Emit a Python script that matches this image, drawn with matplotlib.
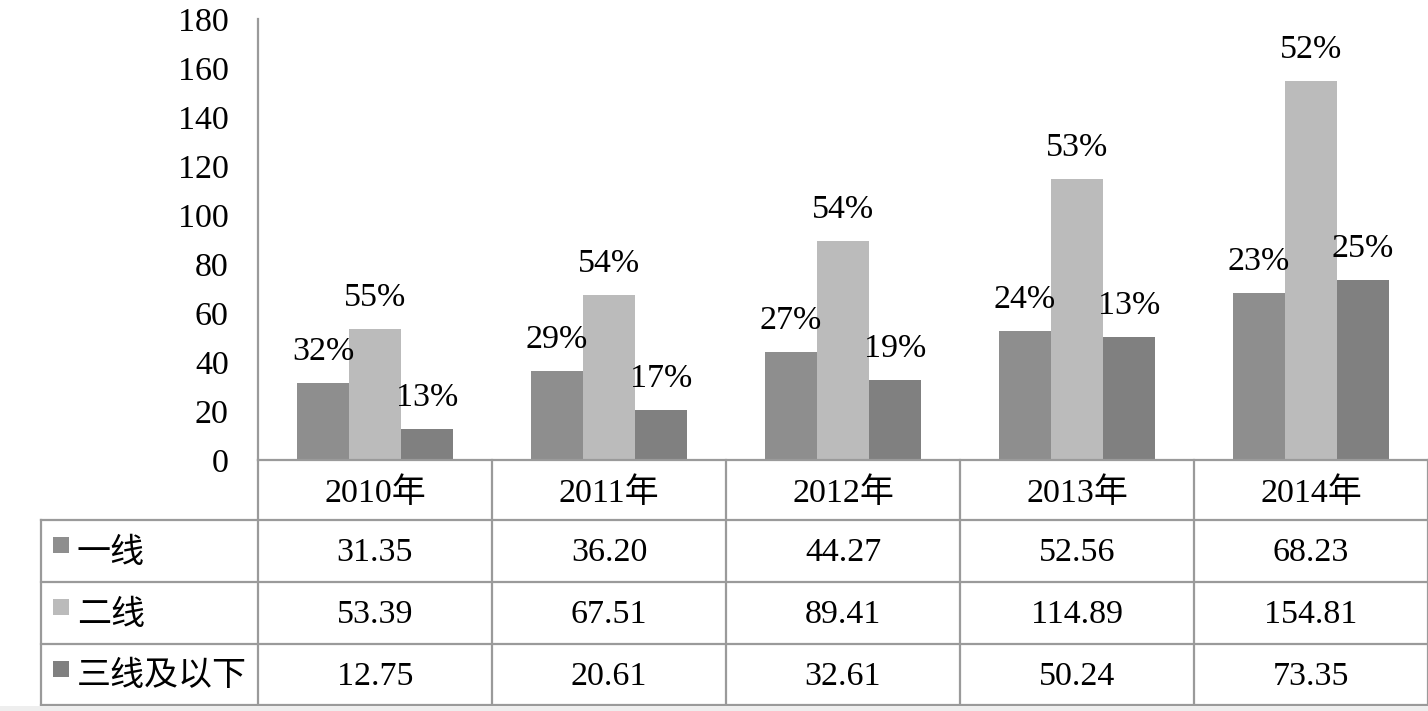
import matplotlib
matplotlib.use("Agg")
import matplotlib.pyplot as plt
import matplotlib.transforms as mtransforms
from matplotlib.patches import Rectangle
import numpy as np

plt.rcParams['font.family'] = ['Liberation Serif', 'Noto Sans CJK SC']

years = ["2010年", "2011年", "2012年", "2013年", "2014年"]
series_names = ["一线", "二线", "三线及以下"]
tier1 = [31.35, 36.20, 44.27, 52.56, 68.23]
tier2 = [53.39, 67.51, 89.41, 114.89, 154.81]
tier3 = [12.75, 20.61, 32.61, 50.24, 73.35]
pct1 = ["32%", "29%", "27%", "24%", "23%"]
pct2 = ["55%", "54%", "54%", "53%", "52%"]
pct3 = ["13%", "17%", "19%", "13%", "25%"]
yticks = [0, 20, 40, 60, 80, 100, 120, 140, 160, 180]

colors = ["#8e8e8e", "#bbbbbb", "#808080"]
grid_color = "#9a9a9a"
FS = 24.5

W, H = 1428, 711
fig = plt.figure(figsize=(W / 100, H / 100), dpi=100)
fig.patch.set_facecolor("white")

ax_left, ax_right = 258, 1428
y0_px, ytop_px = 460, 19
ax = fig.add_axes([ax_left / W, 1 - y0_px / H, (ax_right - ax_left) / W, (y0_px - ytop_px) / H])

x = np.arange(len(years))
bw = 0.222
data = [tier1, tier2, tier3]
pcts = [pct1, pct2, pct3]
for i, (vals, labs) in enumerate(zip(data, pcts)):
    xs = x + (i - 1) * bw
    ax.bar(xs, vals, width=bw, color=colors[i], edgecolor="none", zorder=2)
    for xi, v, lab in zip(xs, vals, labs):
        ax.annotate(lab, (xi, v), xytext=(0, 22.5), textcoords="offset points",
                    ha="center", va="center", fontsize=FS, color="black", zorder=3)

ax.set_xlim(-0.5, len(years) - 0.5)
ax.set_ylim(0, 180)
ax.set_yticks(yticks)
ax.set_xticks([])
ax.tick_params(axis="y", length=0, pad=21, labelsize=FS)
for s in ["top", "right", "bottom"]:
    ax.spines[s].set_visible(False)
ax.spines["left"].set_color(grid_color)
ax.spines["left"].set_linewidth(1.6)

# table below the chart
tr = mtransforms.blended_transform_factory(ax.transData, ax.transAxes)
def yf(py):
    return (y0_px - py) / (y0_px - ytop_px)

px_per_cat = (ax_right - ax_left) / len(years)
x_left_col = -0.5 - (ax_left - 41) / px_per_cat
row_edges = [460, 520, 582, 644, 705]
lw = 1.6
ax.plot([-0.5, len(years) - 0.5], [yf(460)] * 2, transform=tr, color=grid_color, lw=lw, clip_on=False, zorder=4)
for py in row_edges[1:]:
    ax.plot([x_left_col, len(years) - 0.5], [yf(py)] * 2, transform=tr, color=grid_color, lw=lw, clip_on=False)
for b in np.arange(-0.5, len(years), 1.0):
    ax.plot([b, b], [yf(460), yf(705)], transform=tr, color=grid_color, lw=lw, clip_on=False)
ax.plot([x_left_col, x_left_col], [yf(520), yf(705)], transform=tr, color=grid_color, lw=lw, clip_on=False)

for xi, yr in zip(x, years):
    ax.text(xi, yf(493), yr, transform=tr, ha="center", va="center", fontsize=FS)
for r, (name, vals) in enumerate(zip(series_names, data)):
    top, bot = row_edges[r + 1], row_edges[r + 2]
    cy = (top + bot) / 2
    for xi, v in zip(x, vals):
        ax.text(xi, yf(cy + 2), f"{v:.2f}", transform=tr, ha="center", va="center", fontsize=FS)
    sq = Rectangle((53 / W, 1 - (cy + 2) / H), 16 / W, 16 / H, transform=fig.transFigure,
                   facecolor=colors[r], edgecolor="none")
    fig.patches.append(sq)
    fig.text(77 / W, 1 - (cy + 2) / H, name, ha="left", va="center", fontsize=FS)

fig.patches.append(Rectangle((0, 0), 1, 5 / H, transform=fig.transFigure, facecolor="#eeeeee", edgecolor="none"))

fig.savefig("out.png", dpi=100, facecolor="white")
